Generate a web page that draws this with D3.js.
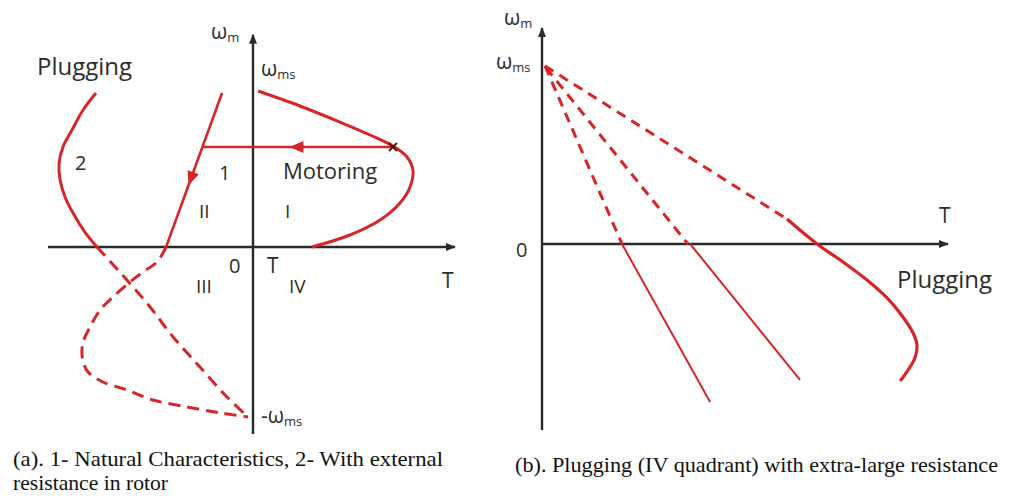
<!DOCTYPE html>
<html>
<head>
<meta charset="utf-8">
<script src="https://cdn.jsdelivr.net/npm/d3@7"></script>
<style>
  html, body { margin: 0; padding: 0; background: #fff; }
  svg { display: block; }
  .lbl { font-family: "Open Sans", sans-serif; fill: #2c2c2c; }
  .cap { font-family: "Liberation Serif", "Times New Roman", serif; fill: #111; }
</style>
</head>
<body>
<svg id="chart" width="1013" height="496"></svg>
<script>
// ---- Panel (a): torque–speed characteristics, T in arbitrary units, ω as fraction of ω_ms ----
// Curve 1, natural characteristic, motoring region (quadrant I)
const natMotoring = [
  [0.25, 1.0], [2.29, 0.904], [4.24, 0.801], [5.71, 0.718], [6.83, 0.647],
  [7.51, 0.577], [7.80, 0.494], [7.66, 0.385], [7.17, 0.282], [6.20, 0.173],
  [4.73, 0.077], [2.88, 0.0]
];
// Transfer to the plugging curve at constant speed
const transferLine = [[6.83, 0.641], [-2.44, 0.641]];
// Curve 1 after reversal (quadrant II, plugging)
const natPlugging = [[-1.51, 0.987], [-4.24, 0.0]];
// Curve 1 continued into quadrant III (dashed)
const natReverse = [
  [-4.24, 0.0], [-4.68, -0.088], [-5.37, -0.147], [-6.0, -0.206], [-6.83, -0.294],
  [-7.46, -0.371], [-7.95, -0.471], [-8.30, -0.565], [-8.32, -0.653], [-8.05, -0.735],
  [-7.32, -0.794], [-6.15, -0.841], [-4.88, -0.90], [-3.22, -0.941], [-1.61, -0.976],
  [-0.24, -1.0]
];
// Curve 2, with external rotor resistance (quadrant II, solid)
const extPlugging = [
  [-7.66, 0.987], [-8.29, 0.878], [-8.83, 0.75], [-9.27, 0.641], [-9.46, 0.538],
  [-9.41, 0.429], [-9.17, 0.321], [-8.78, 0.218], [-8.20, 0.096], [-7.61, 0.0]
];
// Curve 2 continued into quadrant III (dashed)
const extReverse = [
  [-7.61, 0.0], [-6.15, -0.194], [-5.02, -0.353], [-3.90, -0.529], [-2.59, -0.706],
  [-1.27, -0.882], [-0.24, -1.0]
];

// ---- Panel (b): plugging with extra-large rotor resistance ----
const highRDashed = [[0.15, 1.0], [3.94, 0.0]];
const highRSolid = [[3.94, 0.0], [8.28, -0.888]];
const midRDashed = [[0.2, 0.99], [7.19, 0.0]];
const midRSolid = [[7.3, 0.0], [12.71, -0.764]];
const lowRDashed = [[0.15, 1.0], [12.07, 0.14]];
const lowRSolid = [
  [12.07, 0.14], [13.55, 0.0], [14.83, -0.101], [16.01, -0.202], [17.0, -0.303],
  [17.78, -0.41], [18.28, -0.5], [18.47, -0.567], [18.37, -0.64], [18.03, -0.708],
  [17.64, -0.77]
];

// Text
const quadrantLabels = ["I", "II", "III", "IV"];
const curveLabels = ["1", "2"];
const captionA = ["(a). 1- Natural Characteristics, 2- With external", "resistance in rotor"];
const captionB = "(b). Plugging (IV quadrant) with extra-large resistance";

const RED = "#d62628";
const AXIS = "#2a2a2a";

const svg = d3.select("#chart");

const defs = svg.append("defs");
defs.append("marker")
  .attr("id", "axisArrow")
  .attr("viewBox", "0 0 10 8")
  .attr("refX", 9).attr("refY", 4)
  .attr("markerWidth", 10).attr("markerHeight", 8)
  .attr("markerUnits", "userSpaceOnUse")
  .attr("orient", "auto")
  .append("path").attr("d", "M0,0 L10,4 L0,8 Z").attr("fill", AXIS);

// Scales
const xL = d3.scaleLinear().domain([-10, 10]).range([48, 458]);
const yL = d3.scaleLinear().domain([-1, 0, 1]).range([417, 247, 91]);
const xR = d3.scaleLinear().domain([0, 20]).range([542, 948]);
const yR = d3.scaleLinear().domain([0, 1]).range([244, 66]);

function axes(g, x, y, tMin, tMax, wMin, wMax) {
  g.append("line")
    .attr("x1", x(tMin)).attr("y1", y(0)).attr("x2", x(tMax)).attr("y2", y(0))
    .attr("stroke", AXIS).attr("stroke-width", 2.4)
    .attr("marker-end", "url(#axisArrow)");
  g.append("line")
    .attr("x1", x(0)).attr("y1", y(wMin)).attr("x2", x(0)).attr("y2", y(wMax))
    .attr("stroke", AXIS).attr("stroke-width", 2.4)
    .attr("marker-end", "url(#axisArrow)");
}

function curve(g, x, y, data, opts) {
  const gen = d3.line()
    .x(d => x(d[0])).y(d => y(d[1]))
    .curve(opts.smooth ? d3.curveCatmullRom.alpha(0.5) : d3.curveLinear);
  return g.append("path")
    .attr("d", gen(data))
    .attr("fill", "none")
    .attr("stroke", RED)
    .attr("stroke-width", opts.width || 3)
    .attr("stroke-linecap", "butt")
    .attr("stroke-linejoin", "round")
    .attr("stroke-dasharray", opts.dash || null);
}

// Filled arrowhead placed at a fraction along a straight segment
function arrowOn(g, x, y, seg, frac) {
  const p0 = [x(seg[0][0]), y(seg[0][1])];
  const p1 = [x(seg[1][0]), y(seg[1][1])];
  const tip = [p0[0] + (p1[0] - p0[0]) * frac, p0[1] + (p1[1] - p0[1]) * frac];
  const ang = Math.atan2(p1[1] - p0[1], p1[0] - p0[0]) * 180 / Math.PI;
  g.append("path")
    .attr("d", "M0,0 L-14,-6 L-14,6 Z")
    .attr("fill", RED)
    .attr("transform", `translate(${tip[0]},${tip[1]}) rotate(${ang})`);
}

function omega(g, x, yBase, sub, size, prefix) {
  const t = g.append("text").attr("class", "lbl").attr("x", x).attr("y", yBase)
    .attr("font-size", size);
  if (prefix) t.append("tspan").text(prefix);
  t.append("tspan").text("ω");
  t.append("tspan").attr("font-size", size * 0.62).attr("dy", 3).text(sub);
}

function label(g, text, x, y, size) {
  g.append("text").attr("class", "lbl").attr("x", x).attr("y", y)
    .attr("font-size", size).text(text);
}

// ---------------- Panel (a) ----------------
const gA = svg.append("g");
axes(gA, xL, yL, -10, 9.85, -1.1, 1.36);

curve(gA, xL, yL, natReverse, { smooth: true, dash: "12,7" });
curve(gA, xL, yL, extReverse, { smooth: true, dash: "12,7" });
curve(gA, xL, yL, natMotoring, { smooth: true });
curve(gA, xL, yL, extPlugging, { smooth: true });
curve(gA, xL, yL, natPlugging, { width: 2.6 });
curve(gA, xL, yL, transferLine, { width: 2.6 });
arrowOn(gA, xL, yL, transferLine, 0.545);
arrowOn(gA, xL, yL, natPlugging, 0.6);

// operating point where the supply is reversed
const op = transferLine[0];
gA.append("path")
  .attr("d", "M-4,-4 L4,4 M-4,4 L4,-4")
  .attr("transform", `translate(${xL(op[0])},${yL(op[1])})`)
  .attr("stroke", "#4a1212").attr("stroke-width", 1.8);

omega(gA, 211, 39, "m", 21);
omega(gA, 261, 76, "ms", 21);
omega(gA, 261, 423, "ms", 21, "-");

label(gA, "Plugging", 37, 75, 24);
label(gA, "Motoring", 283, 179, 22);
label(gA, curveLabels[0], 219, 180, 20);
label(gA, curveLabels[1], 75, 170, 20);
label(gA, quadrantLabels[1], 199, 218, 19);
label(gA, quadrantLabels[0], 285, 218, 19);
label(gA, quadrantLabels[2], 196, 293, 19);
label(gA, quadrantLabels[3], 289, 293, 19);
label(gA, "0", 229, 273, 20);
label(gA, "T", 267, 273, 21);
label(gA, "T", 442, 288, 21);

// ---------------- Panel (b) ----------------
const gB = svg.append("g");
axes(gB, xR, yR, 0, 20, -1.045, 1.213);

curve(gB, xR, yR, highRDashed, { dash: "10,7", width: 3 });
curve(gB, xR, yR, midRDashed, { dash: "10,7", width: 3 });
curve(gB, xR, yR, lowRDashed, { dash: "10,7", width: 3 });
curve(gB, xR, yR, highRSolid, { width: 2 });
curve(gB, xR, yR, midRSolid, { width: 2 });
curve(gB, xR, yR, lowRSolid, { smooth: true, width: 3.2 });

omega(gB, 504, 25, "m", 21);
omega(gB, 496, 69, "ms", 21);
label(gB, "0", 516, 257, 20);
label(gB, "T", 939, 223, 21);
label(gB, "Plugging", 897, 288, 24);

// ---------------- Captions ----------------
svg.append("text").attr("class", "cap").attr("x", 13).attr("y", 466)
  .attr("font-size", 22).attr("textLength", 430).attr("lengthAdjust", "spacingAndGlyphs")
  .text(captionA[0]);
svg.append("text").attr("class", "cap").attr("x", 13).attr("y", 490)
  .attr("font-size", 22).attr("textLength", 155).attr("lengthAdjust", "spacingAndGlyphs")
  .text(captionA[1]);
svg.append("text").attr("class", "cap").attr("x", 515).attr("y", 472)
  .attr("font-size", 22).attr("textLength", 483).attr("lengthAdjust", "spacingAndGlyphs")
  .text(captionB);
</script>
</body>
</html>
